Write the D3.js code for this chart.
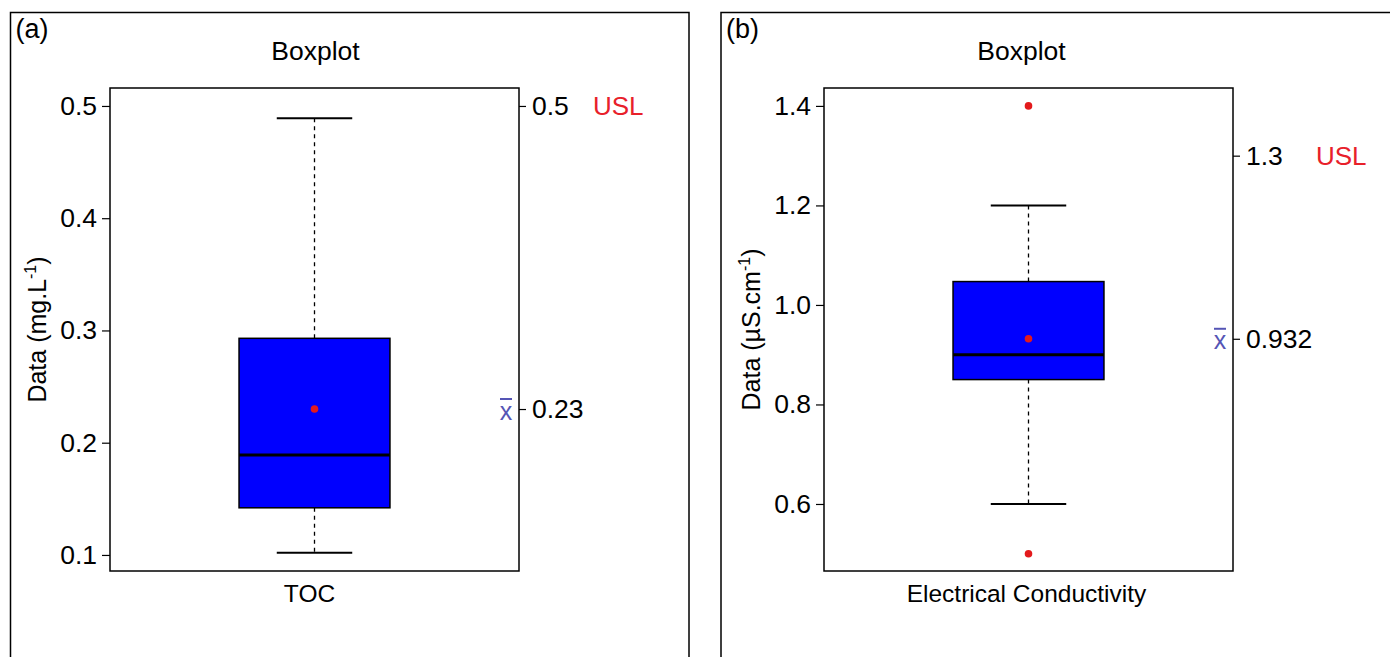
<!DOCTYPE html>
<html><head><meta charset="utf-8">
<script src="https://cdn.jsdelivr.net/npm/d3@7"></script>
<style>
body{margin:0;background:#fff;}
svg text{font-family:"Liberation Sans",Arial,sans-serif;fill:#000;}
</style></head>
<body><svg id="c" width="1390" height="657"></svg>
<script>
// ---- data ----
const panelTags = ["(a)", "(b)"];
const categories = ["TOC", "Electrical Conductivity"];
const yLabelMain = ["Data (mg.L", "Data (\u00b5S.cm"];
const yTicks = [[0.1, 0.2, 0.3, 0.4, 0.5], [0.6, 0.8, 1.0, 1.2, 1.4]];
const yDomains = [[0.0857, 0.516], [0.4653, 1.436]];
const whiskerLow = [0.102, 0.6];
const q1 = [0.142, 0.85];
const median = [0.189, 0.90];
const q3 = [0.293, 1.047];
const whiskerHigh = [0.489, 1.2];
const means = [0.23, 0.932];
const meanLabels = ["0.23", "0.932"];
const usl = [0.5, 1.3];
const uslLabels = ["0.5", "1.3"];
const outliers = [[], [1.4, 0.5]];

const svg = d3.select("#c");
const panels = [
  {ox: 10.5, ow: 678.5, left: 110, right: 519, uslX: 593, titleDx: 1, xlabDx: -5},
  {ox: 721, ow: 700, left: 824, right: 1233, uslX: 1316, titleDx: -7, xlabDx: -2}
];
const plotTop = 88, plotBottom = 571;

panels.forEach((p, i) => {
  const g = svg.append("g");
  g.append("rect").attr("x", p.ox).attr("y", 12.5).attr("width", p.ow).attr("height", 700)
    .attr("fill", "none").attr("stroke", "#000").attr("stroke-width", 1.5);
  g.append("text").attr("x", p.ox + 5).attr("y", 38).attr("font-size", 27).text(panelTags[i]);
  const cx = (p.left + p.right) / 2;
  g.append("text").attr("x", cx + p.titleDx).attr("y", 60).attr("text-anchor", "middle").attr("font-size", 26.5).text("Boxplot");

  const y = d3.scaleLinear().domain(yDomains[i]).range([plotBottom, plotTop]);
  const x = d3.scaleBand().domain([categories[i]]).range([p.left, p.right]).paddingInner(0).paddingOuter(0.855);
  const bx = x(categories[i]), bw = x.bandwidth();
  const mx = bx + bw / 2;

  // left axis
  const ax = g.append("g").attr("transform", `translate(${p.left},0)`)
    .call(d3.axisLeft(y).tickValues(yTicks[i]).tickFormat(d3.format(".1f")).tickSize(8).tickPadding(5));
  ax.select(".domain").remove();
  ax.selectAll("line").attr("stroke", "#000").attr("stroke-width", 1.2);
  ax.selectAll("text").attr("font-size", 26.5).attr("fill", "#000");

  // right axis
  const rax = g.append("g").attr("transform", `translate(${p.right},0)`)
    .call(d3.axisRight(y).tickValues([usl[i], means[i]])
      .tickFormat((d, k) => k === 0 ? uslLabels[i] : meanLabels[i]).tickSize(7).tickPadding(6));
  rax.select(".domain").remove();
  rax.selectAll("line").attr("stroke", "#000").attr("stroke-width", 1.2);
  rax.selectAll("text").attr("font-size", 26.5).attr("fill", "#000");

  g.append("text").attr("x", p.uslX).attr("y", y(usl[i])).attr("dy", "0.35em")
    .attr("font-size", 26).style("fill", "#e8202a").text("USL");
  // x-bar symbol
  const xm = p.right - 13;
  g.append("text").attr("x", xm).attr("y", y(means[i])).attr("dy", "0.42em")
    .attr("text-anchor", "middle").attr("font-size", 25).style("fill", "#5555b5").text("x");
  g.append("line").attr("x1", xm - 6).attr("x2", xm + 6)
    .attr("y1", y(means[i]) - 10).attr("y2", y(means[i]) - 10)
    .attr("stroke", "#5555b5").attr("stroke-width", 2);

  // whiskers
  g.append("line").attr("x1", mx).attr("x2", mx).attr("y1", y(q3[i])).attr("y2", y(whiskerHigh[i]))
    .attr("stroke", "#000").attr("stroke-width", 1.3).attr("stroke-dasharray", "4,4");
  g.append("line").attr("x1", mx).attr("x2", mx).attr("y1", y(q1[i])).attr("y2", y(whiskerLow[i]))
    .attr("stroke", "#000").attr("stroke-width", 1.3).attr("stroke-dasharray", "4,4");
  [whiskerHigh[i], whiskerLow[i]].forEach(v => {
    g.append("line").attr("x1", mx - bw / 4).attr("x2", mx + bw / 4).attr("y1", y(v)).attr("y2", y(v))
      .attr("stroke", "#000").attr("stroke-width", 2);
  });
  // box
  g.append("rect").attr("x", bx).attr("y", y(q3[i])).attr("width", bw).attr("height", y(q1[i]) - y(q3[i]))
    .attr("fill", "#0000ff").attr("stroke", "#000").attr("stroke-width", 1.5);
  g.append("line").attr("x1", bx).attr("x2", bx + bw).attr("y1", y(median[i])).attr("y2", y(median[i]))
    .attr("stroke", "#000").attr("stroke-width", 3);
  // mean & outliers
  g.selectAll(null).data([means[i]].concat(outliers[i])).enter().append("circle")
    .attr("cx", mx).attr("cy", d => y(d)).attr("r", 3.8).attr("fill", "#e31a1c");

  // plot frame
  g.append("rect").attr("x", p.left).attr("y", plotTop).attr("width", p.right - p.left).attr("height", plotBottom - plotTop)
    .attr("fill", "none").attr("stroke", "#000").attr("stroke-width", 1.5);

  // x label
  g.append("text").attr("x", cx + p.xlabDx).attr("y", 602).attr("text-anchor", "middle").attr("font-size", 24.5).text(categories[i]);

  // y label
  const yl = g.append("text").attr("transform", `translate(${p.left - 64},${(plotTop + plotBottom) / 2}) rotate(-90)`)
    .attr("text-anchor", "middle").attr("font-size", 25);
  yl.append("tspan").text(yLabelMain[i]);
  yl.append("tspan").attr("font-size", 16).attr("dy", "-0.6em").text("-1");
  yl.append("tspan").attr("dy", "0.4em").text(")");
});
</script></body></html>
